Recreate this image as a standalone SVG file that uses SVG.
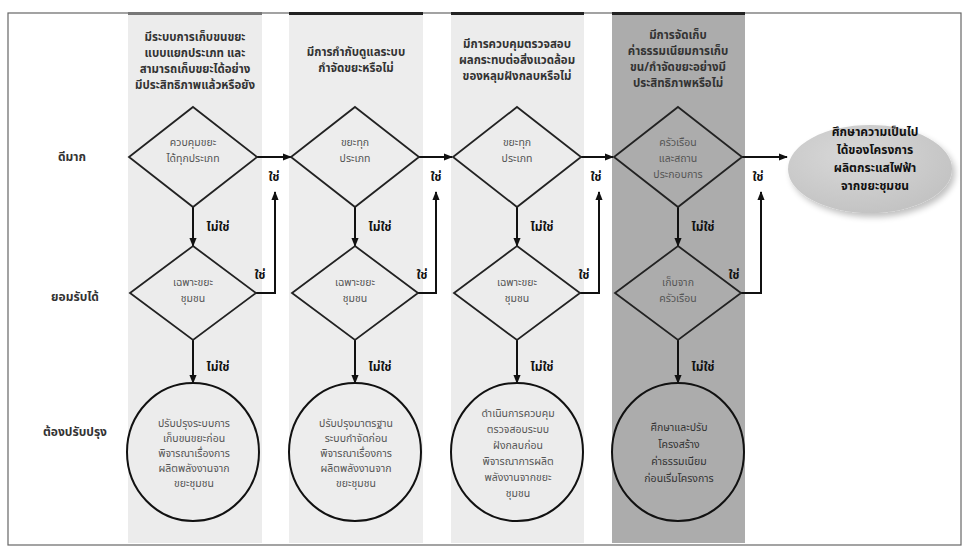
<svg xmlns="http://www.w3.org/2000/svg" width="968" height="554" viewBox="0 0 968 554">
<defs>
<marker id="ah" viewBox="0 0 10 10" refX="9" refY="5" markerWidth="4.5" markerHeight="4.5" orient="auto"><path d="M0,1 L10,5 L0,9 z" fill="#111"/></marker>
<radialGradient id="eg" cx="0.4" cy="0.35" r="0.7"><stop offset="0" stop-color="#d8d8d8"/><stop offset="1" stop-color="#c2c2c2"/></radialGradient>
<filter id="sh" x="-20%" y="-20%" width="140%" height="150%"><feGaussianBlur in="SourceAlpha" stdDeviation="3"/><feOffset dx="3" dy="4"/><feComponentTransfer><feFuncA type="linear" slope="0.25"/></feComponentTransfer><feMerge><feMergeNode/><feMergeNode in="SourceGraphic"/></feMerge></filter>
</defs>
<style>
text{font-family:"Noto Sans Thai","Noto Sans","DejaVu Sans",sans-serif;text-anchor:middle}
.hd{font-size:11.5px;font-weight:bold;fill:#333}
.rl{font-size:12px;fill:#333;font-weight:bold}
.dt{font-size:10.5px;fill:#555}
.ct{font-size:10.5px;fill:#555}
.lb{font-size:12px;font-weight:bold;fill:#111}
.et{font-size:12px;font-weight:bold;fill:#111}
.dm{fill:none;stroke:#222;stroke-width:1.8}
.cc{fill:none;stroke:#111;stroke-width:2}
.cn{fill:none;stroke:#111;stroke-width:2;marker-end:url(#ah)}
</style>
<rect width="968" height="554" fill="#fff"/>
<g id="frame">
<rect x="8" y="13" width="953" height="532" fill="none" stroke="#666" stroke-width="1.2"/>
<rect x="128" y="13" width="134" height="530" fill="#ececec"/>
<rect x="289" y="13" width="134" height="530" fill="#ededed"/>
<rect x="451" y="13" width="133" height="530" fill="#ececec"/>
<rect x="612" y="13" width="133" height="530" fill="#acacac"/>
<rect x="128" y="12" width="134" height="3" fill="#777"/>
<rect x="289" y="12" width="134" height="3" fill="#222"/>
<rect x="451" y="12" width="133" height="3" fill="#222"/>
<rect x="612" y="12" width="133" height="3" fill="#222"/>
</g>
<g id="headers">
<text class="hd" x="195" y="41">มีระบบการเก็บขนขยะ</text>
<text class="hd" x="195" y="57">แบบแยกประเภท และ</text>
<text class="hd" x="195" y="73">สามารถเก็บขยะได้อย่าง</text>
<text class="hd" x="195" y="89">มีประสิทธิภาพแล้วหรือยัง</text>
<text class="hd" x="356" y="56">มีการกำกับดูแลระบบ</text>
<text class="hd" x="356" y="72">กำจัดขยะหรือไม่</text>
<text class="hd" x="517" y="48">มีการควบคุมตรวจสอบ</text>
<text class="hd" x="517" y="64">ผลกระทบต่อสิ่งแวดล้อม</text>
<text class="hd" x="517" y="80">ของหลุมฝังกลบหรือไม่</text>
<text class="hd" x="678" y="39">มีการจัดเก็บ</text>
<text class="hd" x="678" y="55">ค่าธรรมเนียมการเก็บ</text>
<text class="hd" x="678" y="71">ขน/กำจัดขยะอย่างมี</text>
<text class="hd" x="678" y="87">ประสิทธิภาพหรือไม่</text>
</g>
<g id="rows">
<text class="rl" x="72" y="161">ดีมาก</text>
<text class="rl" x="75" y="301">ยอมรับได้</text>
<text class="rl" x="75" y="436">ต้องปรับปรุง</text>
</g>
<g id="connectors">
<path class="cn" d="M257,157 H291"/>
<path class="cn" d="M419,157 H452"/>
<path class="cn" d="M581,157 H613"/>
<path class="cn" d="M742,157 H787"/>
<path class="cn" d="M193,207 V246"/>
<path class="cn" d="M355,207 V246"/>
<path class="cn" d="M517,207 V246"/>
<path class="cn" d="M678,207 V246"/>
<path class="cn" d="M193,340 V383"/>
<path class="cn" d="M355,340 V383"/>
<path class="cn" d="M517,340 V383"/>
<path class="cn" d="M678,340 V383"/>
<path class="cn" d="M256,293 H275 V192"/>
<path class="cn" d="M418,293 H436 V192"/>
<path class="cn" d="M580,293 H599 V192"/>
<path class="cn" d="M741,293 H761 V192"/>
<text class="lb" x="218" y="231">ไม่ใช่</text>
<text class="lb" x="380" y="231">ไม่ใช่</text>
<text class="lb" x="542" y="231">ไม่ใช่</text>
<text class="lb" x="703" y="231">ไม่ใช่</text>
<text class="lb" x="218" y="371">ไม่ใช่</text>
<text class="lb" x="380" y="371">ไม่ใช่</text>
<text class="lb" x="542" y="371">ไม่ใช่</text>
<text class="lb" x="703" y="371">ไม่ใช่</text>
<text class="lb" x="274" y="181">ใช่</text>
<text class="lb" x="436" y="181">ใช่</text>
<text class="lb" x="596" y="181">ใช่</text>
<text class="lb" x="758" y="181">ใช่</text>
<text class="lb" x="260" y="279">ใช่</text>
<text class="lb" x="422" y="279">ใช่</text>
<text class="lb" x="584" y="279">ใช่</text>
<text class="lb" x="734" y="279">ใช่</text>
</g>
<g id="d1a"><polygon class="dm" points="193,107 257,157 193,207 129,157"/><text class="dt" x="193" y="146">ควบคุมขยะ</text><text class="dt" x="193" y="162">ได้ทุกประเภท</text></g>
<g id="d2a"><polygon class="dm" points="355,107 419,157 355,207 291,157"/><text class="dt" x="355" y="146">ขยะทุก</text><text class="dt" x="355" y="162">ประเภท</text></g>
<g id="d3a"><polygon class="dm" points="517,107 581,157 517,207 453,157"/><text class="dt" x="517" y="146">ขยะทุก</text><text class="dt" x="517" y="162">ประเภท</text></g>
<g id="d4a"><polygon class="dm" points="678,107 742,157 678,207 614,157"/><text class="dt" x="678" y="146">ครัวเรือน</text><text class="dt" x="678" y="162">และสถาน</text><text class="dt" x="678" y="178">ประกอบการ</text></g>
<g id="d1b"><polygon class="dm" points="193,246 256,293 193,340 130,293"/><text class="dt" x="193" y="286">เฉพาะขยะ</text><text class="dt" x="193" y="302">ชุมชน</text></g>
<g id="d2b"><polygon class="dm" points="355,246 418,293 355,340 292,293"/><text class="dt" x="355" y="286">เฉพาะขยะ</text><text class="dt" x="355" y="302">ชุมชน</text></g>
<g id="d3b"><polygon class="dm" points="517,246 580,293 517,340 454,293"/><text class="dt" x="517" y="286">เฉพาะขยะ</text><text class="dt" x="517" y="302">ชุมชน</text></g>
<g id="d4b"><polygon class="dm" points="678,246 741,293 678,340 615,293"/><text class="dt" x="678" y="286">เก็บจาก</text><text class="dt" x="678" y="302">ครัวเรือน</text></g>
<g id="c1"><ellipse class="cc" cx="193" cy="452" rx="66" ry="69"/><text class="ct" x="194" y="427">ปรับปรุงระบบการ</text><text class="ct" x="194" y="442">เก็บขนขยะก่อน</text><text class="ct" x="194" y="457">พิจารณาเรื่องการ</text><text class="ct" x="194" y="472">ผลิตพลังงานจาก</text><text class="ct" x="194" y="487">ขยะชุมชน</text></g>
<g id="c2"><ellipse class="cc" cx="355" cy="452" rx="66" ry="69"/><text class="ct" x="356" y="427">ปรับปรุงมาตรฐาน</text><text class="ct" x="356" y="442">ระบบกำจัดก่อน</text><text class="ct" x="356" y="457">พิจารณาเรื่องการ</text><text class="ct" x="356" y="472">ผลิตพลังงานจาก</text><text class="ct" x="356" y="487">ขยะชุมชน</text></g>
<g id="c3"><ellipse class="cc" cx="517" cy="452" rx="66" ry="69"/><text class="ct" x="518" y="417">ดำเนินการควบคุม</text><text class="ct" x="518" y="433">ตรวจสอบระบบ</text><text class="ct" x="518" y="449">ฝังกลบก่อน</text><text class="ct" x="518" y="465">พิจารณาการผลิต</text><text class="ct" x="518" y="481">พลังงานจากขยะ</text><text class="ct" x="518" y="497">ชุมชน</text></g>
<g id="c4"><ellipse class="cc" cx="678" cy="452" rx="66" ry="69"/><text class="ct" x="679" y="431" style="fill:#333">ศึกษาและปรับ</text><text class="ct" x="679" y="448" style="fill:#333">โครงสร้าง</text><text class="ct" x="679" y="465" style="fill:#333">ค่าธรรมเนียม</text><text class="ct" x="679" y="482" style="fill:#333">ก่อนเริ่มโครงการ</text></g>
<g id="result"><ellipse cx="870" cy="169" rx="82" ry="44" fill="url(#eg)" filter="url(#sh)"/><text class="et" x="875" y="136">ศึกษาความเป็นไป</text><text class="et" x="875" y="154">ได้ของโครงการ</text><text class="et" x="875" y="172">ผลิตกระแสไฟฟ้า</text><text class="et" x="875" y="190">จากขยะชุมชน</text></g>
</svg>
